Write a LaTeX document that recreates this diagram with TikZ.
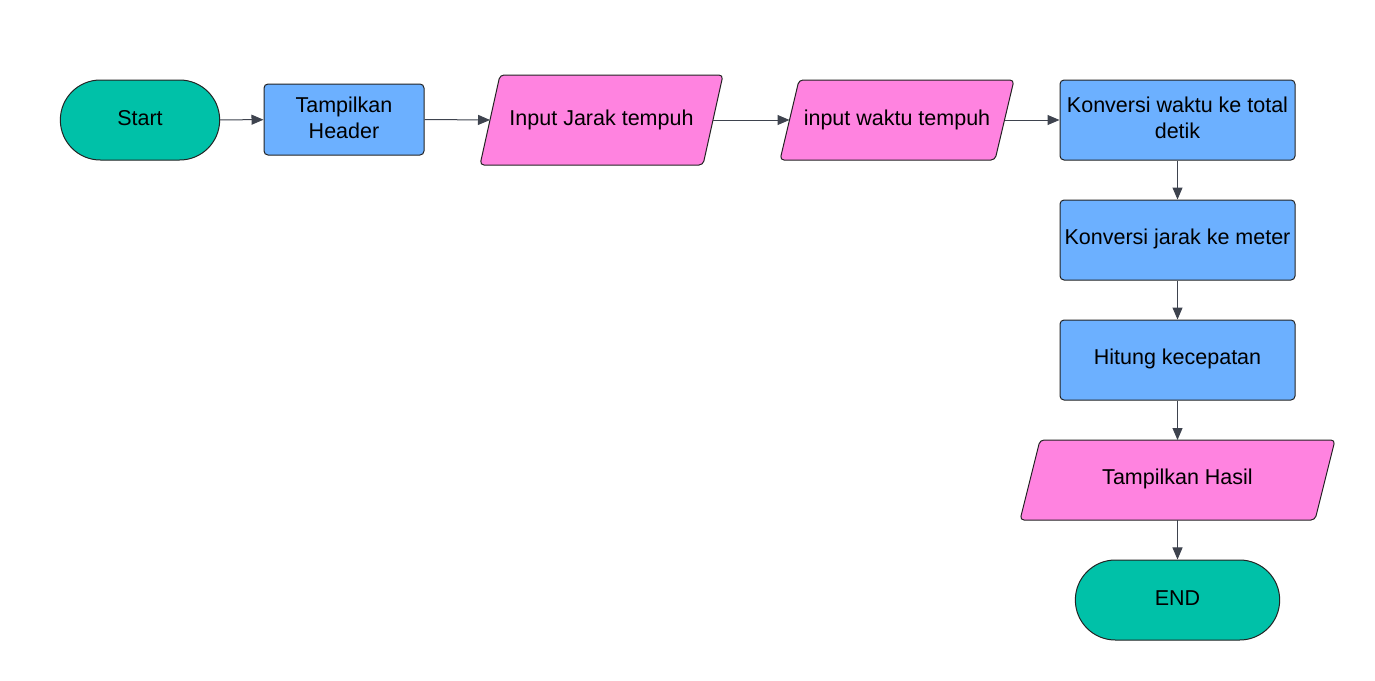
\documentclass[tikz,border=0pt]{standalone}
\usepackage{fontspec}
\setmainfont{Liberation Sans}
\usetikzlibrary{shapes.misc,arrows.meta}
\definecolor{teal1}{RGB}{0,193,168}
\definecolor{blue1}{RGB}{108,176,255}
\definecolor{pink1}{RGB}{255,131,224}
\definecolor{arr}{RGB}{62,67,78}
\definecolor{edge}{RGB}{35,35,35}
\tikzset{
  txt/.style={text=black, font=\fontsize{21.5}{26}\selectfont, align=center, inner sep=2pt},
  base/.style={draw=edge, line width=1pt},
  term/.style={base, rounded rectangle, fill=teal1, minimum height=80pt},
  proc/.style={base, rectangle, rounded corners=4pt, fill=blue1},
  iobox/.style={draw=edge, line width=1pt, fill=pink1, rounded corners=4pt},
  conn/.style={draw=arr, line width=1pt, -{Triangle[length=12pt,width=10pt]}},
  say/.style 2 args={label={[txt, yshift=#1]center:{#2}}}
}
\begin{document}
\begin{tikzpicture}[x=1pt,y=-1pt]
\useasboundingbox (0,0) rectangle (1375,680);
% parallelogram outlines
\path[iobox] (500,75) -- (723,75) -- (703,165) -- (480,165) -- cycle;
\path[iobox] (799,80) -- (1014,80) -- (995,160) -- (780,160) -- cycle;
\path[iobox] (1040,440) -- (1335,440) -- (1315,520) -- (1020,520) -- cycle;
% nodes
\node[term, minimum width=166pt, say={2pt}{Start}] (start) at (140,120) {};
\node[proc, minimum width=160pt, minimum height=71pt, say={2pt}{Tampilkan\\Header}] (header) at (344,119.5) {};
\node[txt] (jarak) at (601.5,119.5) {Input Jarak tempuh};
\node[txt] (waktu) at (897,119.5) {input waktu tempuh};
\node[proc, minimum width=235pt, minimum height=80pt, say={2pt}{Konversi waktu ke total\\detik}] (kw) at (1177.5,120) {};
\node[proc, minimum width=235pt, minimum height=80pt, say={1pt}{Konversi jarak ke meter}] (kj) at (1177.5,240) {};
\node[proc, minimum width=235pt, minimum height=80pt, say={1pt}{Hitung kecepatan}] (hit) at (1177.5,360) {};
\node[txt] (hasil) at (1177.5,479) {Tampilkan Hasil};
\node[term, minimum width=211pt, say={2pt}{END}] (end) at (1177.5,600) {};
% connector end points on the slanted sides
\coordinate (jarakIn) at (490,120);
\coordinate (jarakOut) at (713,120);
\coordinate (waktuIn) at (789.5,120);
\coordinate (waktuOut) at (1004.5,120);
\coordinate (hasilTop) at (1177.5,440);
\coordinate (hasilBot) at (1177.5,520);
\draw[conn] (start) -- (header);
\draw[conn] (header.east) -- (jarakIn);
\draw[conn] (jarakOut) -- (waktuIn);
\draw[conn] (waktuOut) -- (kw);
\draw[conn] (kw) -- (kj);
\draw[conn] (kj) -- (hit);
\draw[conn] (hit) -- (hasilTop);
\draw[conn] (hasilBot) -- (end);
\end{tikzpicture}
\end{document}
